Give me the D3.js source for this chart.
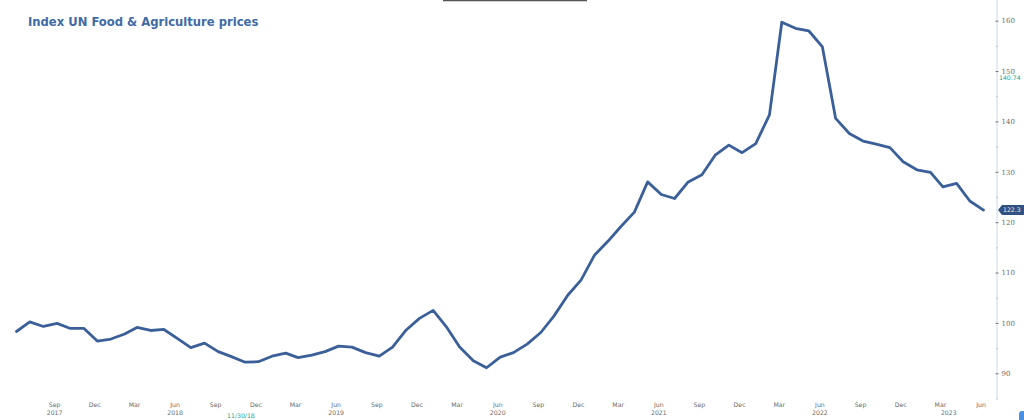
<!DOCTYPE html>
<html>
<head>
<meta charset="utf-8">
<script src="https://cdn.jsdelivr.net/npm/d3@7"></script>
<style>
  html, body { margin: 0; padding: 0; background: #fff; }
  svg { display: block; }
</style>
</head>
<body>
<svg id="chart" width="1024" height="420"></svg>
<script>
// ---- Data (monthly, Jun 2017 .. Jun 2023) ----
const startMonth = "2017-06";
const endMonth = "2023-06";
const values = [
  98.3, 100.2, 99.3, 99.9, 98.9, 98.9, 96.4, 96.8, 97.8, 99.1, 98.5, 98.7,
  96.9, 95.1, 96.0, 94.3, 93.3, 92.2, 92.3, 93.4, 94.0, 93.1, 93.6, 94.3,
  95.4, 95.2, 94.1, 93.4, 95.2, 98.6, 100.9, 102.5, 99.1, 95.2, 92.5, 91.1,
  93.2, 94.1, 95.8, 98.1, 101.4, 105.5, 108.5, 113.5, 116.3, 119.1, 122.0, 128.0,
  125.5, 124.7, 128.0, 129.4, 133.3, 135.3, 133.8, 135.6, 141.3, 159.7, 158.5, 158.0,
  154.8, 140.6, 137.6, 136.1, 135.5, 134.8, 132.0, 130.4, 129.9, 127.0, 127.7, 124.2,
  122.4
];
const monthTicks = ["2017-09","2017-12","2018-03","2018-06","2018-09","2018-12","2019-03","2019-06",
  "2019-09","2019-12","2020-03","2020-06","2020-09","2020-12","2021-03","2021-06","2021-09","2021-12",
  "2022-03","2022-06","2022-09","2022-12","2023-03","2023-06"];
const monthTickLabels = ["Sep","Dec","Mar","Jun","Sep","Dec","Mar","Jun","Sep","Dec","Mar","Jun",
  "Sep","Dec","Mar","Jun","Sep","Dec","Mar","Jun","Sep","Dec","Mar","Jun"];
const yearTicks = ["2017-09-01","2018-06-01","2019-06-01","2020-06-01","2021-06-01","2022-06-01","2023-03-20"];
const yearLabels = ["2017","2018","2019","2020","2021","2022","2023"];
const yMajorTicks = [90, 100, 110, 120, 130, 140, 150, 160];
const yMinorTicks = [85, 95, 105, 115, 125, 135, 145, 155, 165];
const title = "Index UN Food & Agriculture prices";
const crosshairDate = "2018-11-30";
const crosshairLabel = "11/30/18";
const markerLabel = "140.74";
const lastLabel = "122.3";

// ---- Setup ----
const svg = d3.select("#chart");
const parseM = d3.timeParse("%Y-%m");
const parseD = d3.timeParse("%Y-%m-%d");
const dates = d3.timeMonth.range(parseM(startMonth), d3.timeMonth.offset(parseM(endMonth), 1));
const data = dates.map((d, i) => ({ date: d, value: values[i] }));

const x = d3.scaleTime()
  .domain([parseM(startMonth), parseM(endMonth)])
  .range([16.5, 983.5]);
const y = d3.scaleLinear()
  .domain([90, 160])
  .range([373.3, 20.7]);

const axisX = 997;
const lineColor = "#3b5f98";
const labelColor = "#6b6b6b";

// title
svg.append("text")
  .attr("x", 28).attr("y", 25.5)
  .attr("font-family", "DejaVu Sans, Verdana, sans-serif")
  .attr("font-weight", "bold")
  .attr("font-size", 11.6)
  .attr("fill", "#3f6ba6")
  .text(title);

// top handle line
svg.append("line")
  .attr("x1", 443).attr("x2", 587).attr("y1", 0.5).attr("y2", 0.5)
  .attr("stroke", "#555").attr("stroke-width", 1.5);

// right axis line
svg.append("line")
  .attr("x1", axisX).attr("x2", axisX).attr("y1", 0).attr("y2", 398)
  .attr("stroke", "#cdd8e4").attr("stroke-width", 1);

// right axis via d3
const yAxis = d3.axisRight(y).tickValues(yMajorTicks).tickSize(3).tickPadding(3)
  .tickFormat(d3.format("d"));
const gy = svg.append("g").attr("transform", `translate(${axisX - 1.5},0)`).call(yAxis);
gy.select(".domain").remove();
gy.selectAll(".tick line").attr("stroke", "#777");
gy.selectAll(".tick text")
  .attr("font-family", "DejaVu Serif, serif")
  .attr("font-size", 7)
  .attr("fill", labelColor);

const yMinor = d3.axisRight(y).tickValues(yMinorTicks).tickSize(2).tickFormat("");
const gym = svg.append("g").attr("transform", `translate(${axisX - 1},0)`).call(yMinor);
gym.select(".domain").remove();
gym.selectAll(".tick line").attr("stroke", "#b8c4d0");

// x axis labels (months)
const xMonth = d3.axisBottom(x).tickValues(monthTicks.map(parseM)).tickSize(0).tickPadding(0)
  .tickFormat((d, i) => monthTickLabels[i]);
const gx = svg.append("g").attr("transform", "translate(-3,403)").call(xMonth);
gx.select(".domain").remove();
gx.selectAll(".tick text")
  .attr("font-family", "DejaVu Sans, sans-serif")
  .attr("font-size", 6.2)
  .attr("fill", labelColor);

// x axis labels (years)
const xYear = d3.axisBottom(x).tickValues(yearTicks.map(parseD)).tickSize(0).tickPadding(0)
  .tickFormat((d, i) => yearLabels[i]);
const gx2 = svg.append("g").attr("transform", "translate(-3,411)").call(xYear);
gx2.select(".domain").remove();
gx2.selectAll(".tick text")
  .attr("font-family", "DejaVu Sans, sans-serif")
  .attr("font-size", 6.2)
  .attr("fill", labelColor);

// crosshair date label
svg.append("text")
  .attr("x", x(parseD(crosshairDate)) - 17).attr("y", 417.5)
  .attr("text-anchor", "middle")
  .attr("font-family", "DejaVu Sans, sans-serif")
  .attr("font-size", 6.2)
  .attr("fill", "#2a9d8f")
  .text(crosshairLabel);

// line
const line = d3.line().x(d => x(d.date)).y(d => y(d.value));
svg.append("path")
  .datum(data)
  .attr("d", line)
  .attr("fill", "none")
  .attr("stroke", lineColor)
  .attr("stroke-width", 2.8)
  .attr("stroke-linejoin", "round")
  .attr("stroke-linecap", "round");

// marker label (teal)
svg.append("text")
  .attr("x", 999).attr("y", 80)
  .attr("font-family", "DejaVu Sans, sans-serif")
  .attr("font-size", 6.2)
  .attr("fill", "#2aa193")
  .text(markerLabel);

// last value flag
const last = data[data.length - 1];
const ly = y(last.value);
svg.append("path")
  .attr("d", `M${axisX + 1},${ly} L${axisX + 5},${ly - 5} L1026,${ly - 5} L1026,${ly + 5} L${axisX + 5},${ly + 5} Z`)
  .attr("fill", "#2f5282");
svg.append("text")
  .attr("x", axisX + 6).attr("y", ly + 2.3)
  .attr("font-family", "DejaVu Sans, sans-serif")
  .attr("font-size", 6.2)
  .attr("fill", "#e8eef6")
  .text(lastLabel);

// bottom-right button fragment
svg.append("rect")
  .attr("x", 1019).attr("y", 411).attr("width", 12).attr("height", 14).attr("rx", 3)
  .attr("fill", "#4a8fe0");
</script>
</body>
</html>
